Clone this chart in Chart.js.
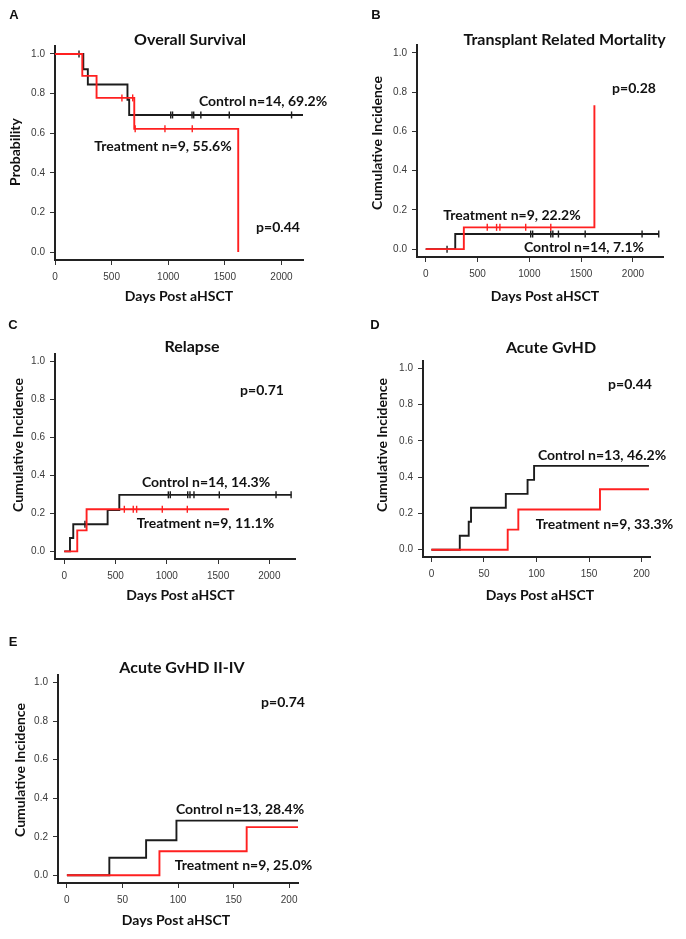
<!DOCTYPE html>
<html>
<head>
<meta charset="utf-8">
<script src="https://cdn.jsdelivr.net/npm/chart.js@4.4.1/dist/chart.umd.min.js"></script>
<style>
  body { margin: 0; background: #fff; }
  #page { position: relative; width: 686px; height: 939px; overflow: hidden; }
  .panel { position: absolute; }
</style>
</head>
<body>
<div id="page">
  <div class="panel" style="left:0;top:0;width:340px;height:305px"><canvas id="cA"></canvas></div>
  <div class="panel" style="left:340px;top:0;width:346px;height:305px"><canvas id="cB"></canvas></div>
  <div class="panel" style="left:0;top:305px;width:340px;height:305px"><canvas id="cC"></canvas></div>
  <div class="panel" style="left:340px;top:305px;width:346px;height:305px"><canvas id="cD"></canvas></div>
  <div class="panel" style="left:0;top:610px;width:340px;height:329px"><canvas id="cE"></canvas></div>
</div>
<script>
const RED = "#ff2020";
const BLACK = "#1c1c1c";

// tick labels
const longDays = [0, 500, 1000, 1500, 2000];
const shortDays = [0, 50, 100, 150, 200];
const probTicks = [0, 0.2, 0.4, 0.6, 0.8, 1.0];

// A - overall survival
const osCtrlDays = [0, 250, 290, 640, 655];
const osCtrlProb = [1, 0.923, 0.846, 0.769, 0.692];
const osCtrlCensor = [212, 1022, 1038, 1210, 1225, 1288, 1539, 2089];
const osTrtDays = [0, 241, 367, 700, 1618];
const osTrtProb = [1, 0.889, 0.778, 0.622, 0];
const osTrtCensor = [591, 686, 708, 971, 1212];

// B - transplant related mortality
const trmCtrlDays = [0, 285];
const trmCtrlInc = [0, 0.077];
const trmCtrlCensor = [206, 1013, 1032, 1207, 1227, 1281, 1539, 2088, 2249];
const trmTrtDays = [0, 368, 1628];
const trmTrtInc = [0, 0.111, 0.733];
const trmTrtCensor = [594, 684, 716, 965, 1207];

// C - relapse
const relCtrlDays = [0, 56, 88, 423, 537];
const relCtrlInc = [0, 0.071, 0.143, 0.218, 0.298];
const relCtrlCensor = [202, 1015, 1034, 1204, 1226, 1265, 1512, 2065, 2212];
const relTrtDays = [0, 127, 218];
const relTrtInc = [0, 0.111, 0.222];
const relTrtCensor = [586, 673, 706, 956, 1200];

// D - acute GvHD
const gvhCtrlDays = [0, 27, 35.5, 37.7, 70.8, 91.5, 97.7];
const gvhCtrlInc = [0, 0.077, 0.154, 0.231, 0.308, 0.385, 0.462];
const gvhTrtDays = [0, 72.6, 82.7, 160.4];
const gvhTrtInc = [0, 0.111, 0.222, 0.333];

// E - acute GvHD II-IV
const g24CtrlDays = [0, 38.2, 71.3, 98.6];
const g24CtrlInc = [0, 0.091, 0.182, 0.284];
const g24TrtDays = [0, 83.3, 161.8];
const g24TrtInc = [0, 0.125, 0.25];

// step curve points, last value carried to end of follow-up
function curve(days, vals, end) {
  const pts = days.map((d, i) => ({ x: d, y: vals[i] }));
  pts.push({ x: end, y: vals[vals.length - 1] });
  return pts;
}

// censor marks sit on the curve value at that day
function censorPts(days, vals, times) {
  return times.map(t => {
    let v = vals[0];
    days.forEach((d, i) => { if (d <= t) v = vals[i]; });
    return { x: t, y: v };
  });
}

function stepSet(data, color) {
  return { data: data, borderColor: color, borderWidth: 1.9, stepped: true,
           pointRadius: 0, fill: false, tension: 0 };
}
function censorSet(data, color) {
  return { data: data, showLine: false, pointStyle: "line", rotation: 90,
           pointRadius: 3.5, pointBorderColor: color, pointBorderWidth: 1.4,
           borderColor: color };
}

const LETTER = "bold 13px 'Liberation Sans'";
const TITLE = "bold 16px Lato";
const NOTE = "bold 14px Lato";

const notesPlugin = {
  id: "notes",
  afterDraw(chart, args, o) {
    const ctx = chart.ctx;
    o.items.forEach(n => {
      const size = parseFloat(n.f.match(/(\d+)px/)[1]);
      ctx.save();
      ctx.font = n.f;
      ctx.fillStyle = "#111";
      ctx.textAlign = "center";
      ctx.textBaseline = "alphabetic";
      ctx.translate(n.x - o.left, n.y - o.top);
      if (n.rot) ctx.rotate(-Math.PI / 2);
      ctx.fillText(n.t, 0, size * 0.36);
      ctx.restore();
    });
  }
};

function makePanel(id, p) {
  const axisGrid = { display: true, drawOnChartArea: false, drawTicks: true,
                     tickLength: 5, tickColor: "#333", tickWidth: 1 };
  const tickFont = { family: "'Liberation Sans'", size: 10 };
  new Chart(document.getElementById(id), {
    type: "line",
    data: { datasets: p.datasets },
    options: {
      responsive: true,
      maintainAspectRatio: false,
      animation: false,
      layout: { autoPadding: false, padding: { top: p.padTop, right: p.padRight, left: 0, bottom: 0 } },
      plugins: {
        legend: { display: false },
        tooltip: { enabled: false },
        notes: { left: p.left, top: p.top, items: p.notes }
      },
      scales: {
        x: {
          type: "linear", min: p.xMin, max: p.xMax,
          afterBuildTicks: s => { s.ticks = p.xTicks.map(v => ({ value: v })); },
          afterFit: s => { s.height = p.xAxisH; },
          grid: axisGrid,
          border: { display: true, color: "#222", width: 2 },
          ticks: { autoSkip: false, maxRotation: 0, padding: 6, color: "#3a3a3a",
                   font: tickFont, callback: v => String(v) }
        },
        y: {
          type: "linear", min: -0.04, max: 1.04,
          afterBuildTicks: s => { s.ticks = probTicks.map(v => ({ value: v })); },
          afterFit: s => { s.width = p.yAxisW; },
          grid: axisGrid,
          border: { display: true, color: "#222", width: 2 },
          ticks: { autoSkip: false, padding: 5, color: "#3a3a3a",
                   font: tickFont, callback: v => Number(v).toFixed(1) }
        }
      }
    },
    plugins: [notesPlugin]
  });
}

makePanel("cA", {
  left: 0, top: 0, yAxisW: 55, xAxisH: 45, padTop: 46, padRight: 37,
  xMin: 0, xMax: 2190, xTicks: longDays,
  datasets: [
    stepSet(curve(osTrtDays, osTrtProb, 1618), RED),
    censorSet(censorPts(osTrtDays, osTrtProb, osTrtCensor), RED),
    stepSet(curve(osCtrlDays, osCtrlProb, 2190), BLACK),
    censorSet(censorPts(osCtrlDays, osCtrlProb, osCtrlCensor), BLACK)
  ],
  notes: [
    { t: "A", x: 14, y: 14, f: LETTER },
    { t: "Overall Survival", x: 190, y: 39, f: TITLE },
    { t: "Control n=14, 69.2%", x: 263, y: 100.5, f: NOTE },
    { t: "Treatment n=9, 55.6%", x: 163, y: 145.5, f: NOTE },
    { t: "p=0.44", x: 278, y: 227, f: NOTE },
    { t: "Probability", x: 15, y: 152, f: NOTE, rot: true },
    { t: "Days Post aHSCT", x: 179, y: 296, f: NOTE }
  ]
});

makePanel("cB", {
  left: 340, top: 0, yAxisW: 77, xAxisH: 48, padTop: 45, padRight: 23,
  xMin: -84, xMax: 2290, xTicks: longDays,
  datasets: [
    stepSet(curve(trmTrtDays, trmTrtInc, 1628), RED),
    censorSet(censorPts(trmTrtDays, trmTrtInc, trmTrtCensor), RED),
    stepSet(curve(trmCtrlDays, trmCtrlInc, 2250), BLACK),
    censorSet(censorPts(trmCtrlDays, trmCtrlInc, trmCtrlCensor), BLACK)
  ],
  notes: [
    { t: "B", x: 376, y: 14, f: LETTER },
    { t: "Transplant Related Mortality", x: 564.5, y: 39, f: TITLE },
    { t: "p=0.28", x: 634, y: 87.5, f: NOTE },
    { t: "Treatment n=9, 22.2%", x: 512, y: 215, f: NOTE },
    { t: "Control n=14, 7.1%", x: 584, y: 246.7, f: NOTE },
    { t: "Cumulative Incidence", x: 377, y: 143, f: NOTE, rot: true },
    { t: "Days Post aHSCT", x: 545, y: 296, f: NOTE }
  ]
});

makePanel("cC", {
  left: 0, top: 305, yAxisW: 55, xAxisH: 51, padTop: 49, padRight: 45,
  xMin: -90, xMax: 2250, xTicks: longDays,
  datasets: [
    stepSet(curve(relTrtDays, relTrtInc, 1607), RED),
    censorSet(censorPts(relTrtDays, relTrtInc, relTrtCensor), RED),
    stepSet(curve(relCtrlDays, relCtrlInc, 2215), BLACK),
    censorSet(censorPts(relCtrlDays, relCtrlInc, relCtrlCensor), BLACK)
  ],
  notes: [
    { t: "C", x: 13, y: 324, f: LETTER },
    { t: "Relapse", x: 192, y: 346, f: TITLE },
    { t: "p=0.71", x: 262, y: 390, f: NOTE },
    { t: "Control n=14, 14.3%", x: 206, y: 482, f: NOTE },
    { t: "Treatment n=9, 11.1%", x: 205.5, y: 522.7, f: NOTE },
    { t: "Cumulative Incidence", x: 17.5, y: 445, f: NOTE, rot: true },
    { t: "Days Post aHSCT", x: 180.5, y: 595, f: NOTE }
  ]
});

makePanel("cD", {
  left: 340, top: 305, yAxisW: 83, xAxisH: 53, padTop: 56, padRight: 36,
  xMin: -8, xMax: 208, xTicks: shortDays,
  datasets: [
    stepSet(curve(gvhTrtDays, gvhTrtInc, 207), RED),
    stepSet(curve(gvhCtrlDays, gvhCtrlInc, 207), BLACK)
  ],
  notes: [
    { t: "D", x: 375, y: 324.5, f: LETTER },
    { t: "Acute GvHD", x: 551, y: 347, f: TITLE },
    { t: "p=0.44", x: 630, y: 384, f: NOTE },
    { t: "Control n=13, 46.2%", x: 602, y: 455, f: NOTE },
    { t: "Treatment n=9, 33.3%", x: 604.5, y: 524, f: NOTE },
    { t: "Cumulative Incidence", x: 382, y: 445, f: NOTE, rot: true },
    { t: "Days Post aHSCT", x: 540, y: 595, f: NOTE }
  ]
});

makePanel("cE", {
  left: 0, top: 610, yAxisW: 58, xAxisH: 56, padTop: 65, padRight: 42,
  xMin: -8, xMax: 208, xTicks: shortDays,
  datasets: [
    stepSet(curve(g24TrtDays, g24TrtInc, 208), RED),
    stepSet(curve(g24CtrlDays, g24CtrlInc, 208), BLACK)
  ],
  notes: [
    { t: "E", x: 13, y: 641, f: LETTER },
    { t: "Acute GvHD II-IV", x: 182, y: 667.5, f: TITLE },
    { t: "p=0.74", x: 283, y: 701.5, f: NOTE },
    { t: "Control n=13, 28.4%", x: 240, y: 808.7, f: NOTE },
    { t: "Treatment n=9, 25.0%", x: 243.5, y: 864.7, f: NOTE },
    { t: "Cumulative Incidence", x: 20, y: 770, f: NOTE, rot: true },
    { t: "Days Post aHSCT", x: 176, y: 920, f: NOTE }
  ]
});
</script>
</body>
</html>
